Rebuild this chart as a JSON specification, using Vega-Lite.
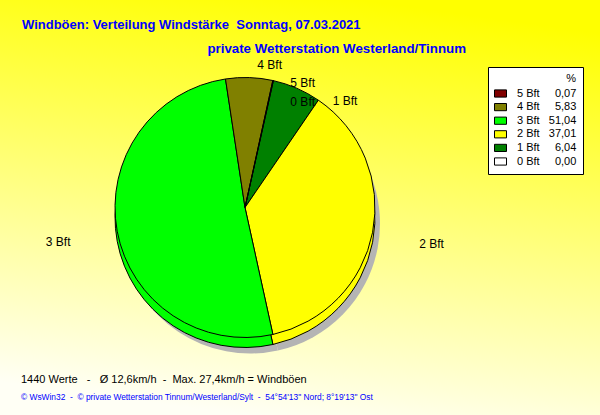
{
  "$schema": "https://vega.github.io/schema/vega-lite/v6.json",
  "padding": 0,
  "spacing": 0,
  "bounds": "flush",
  "background": "#ffffff",
  "config": {"view": {"stroke": null}},
  "datasets": {
    "wind": [
      {"Bft": "0 Bft", "Anteil": 0.00},
      {"Bft": "1 Bft", "Anteil": 6.04},
      {"Bft": "2 Bft", "Anteil": 37.01},
      {"Bft": "3 Bft", "Anteil": 51.04},
      {"Bft": "4 Bft", "Anteil": 5.83},
      {"Bft": "5 Bft", "Anteil": 0.07}
    ]
  },
  "title": {
    "text": "Windböen: Verteilung Windstärke\u00a0 Sonntag, 07.03.2021",
    "anchor": "start", "frame": "group", "orient": "top", "offset": -42, "baseline": "alphabetic", "dx": 22,
    "font": "Liberation Sans", "fontSize": 13, "fontWeight": "bold", "color": "#0000ff"
  },
  "hconcat": [
    {
      "width": 490,
      "height": 415,
      "view": {"stroke": null, "fill": {"gradient": "linear", "x1": 0.735, "y1": 0, "x2": 0.5696, "y2": 1.013, "stops": [{"offset": 0, "color": "#ffff00"}, {"offset": 1, "color": "#fffff5"}]}},
      "data": {"name": "wind"},
      "title": {
        "text": "1440 Werte\u00a0\u00a0 -\u00a0\u00a0 Ø 12,6km/h\u00a0 -\u00a0 Max. 27,4km/h = Windböen",
        "subtitle": "© WsWin32\u00a0 -\u00a0 © private Wetterstation Tinnum/Westerland/Sylt\u00a0 -\u00a0 54°54'13\" Nord; 8°19'13\" Ost",
        "orient": "bottom", "anchor": "start", "frame": "group", "offset": -32, "baseline": "alphabetic", "dx": 21,
        "font": "Liberation Sans", "fontSize": 11, "fontWeight": "normal", "color": "#000000",
        "subtitleFont": "Liberation Sans", "subtitleFontSize": 8.4, "subtitleColor": "#0000ff", "subtitlePadding": 6
      },
      "encoding": {
        "theta": {"field": "Anteil", "type": "quantitative", "stack": true, "scale": {"range": [0.2201, 6.5033], "nice": false}},
        "order": {"field": "Bft", "type": "ordinal", "sort": "ascending"}
      },
      "layer": [
        {
          "mark": {"type": "arc", "outerRadius": 130, "fill": "#b4b4b4", "stroke": null, "xOffset": 5, "yOffset": 16},
          "encoding": {}
        },
        {
          "mark": {"type": "arc", "outerRadius": 130, "stroke": "#000000", "strokeWidth": 1, "yOffset": 10},
          "encoding": {
            "color": {"field": "Bft", "type": "nominal", "scale": {"domain": ["5 Bft", "4 Bft", "3 Bft", "2 Bft", "1 Bft", "0 Bft"], "range": ["#800000", "#808000", "#00ff00", "#ffff00", "#008000", "#ffffff"]}}
          }
        },
        {
          "mark": {"type": "arc", "outerRadius": 130, "stroke": "#000000", "strokeWidth": 1},
          "encoding": {
            "color": {
              "field": "Bft", "type": "nominal",
              "scale": {"domain": ["5 Bft", "4 Bft", "3 Bft", "2 Bft", "1 Bft", "0 Bft"], "range": ["#800000", "#808000", "#00ff00", "#ffff00", "#008000", "#ffffff"]},
              "legend": {
                "orient": "none", "legendX": 488, "legendY": 67,
                "title": "%\u00a0\u00a0\u00a0\u00a0\u00a0\u00a0", "titleAnchor": "end", "titleAlign": "right",
                "titleFont": "Liberation Sans", "titleFontSize": 11, "titleFontWeight": "normal", "titleColor": "#000000", "titlePadding": 3,
                "labelFont": "Liberation Sans", "labelFontSize": 11, "labelColor": "#000000", "labelOffset": 10, "labelLimit": 200,
                "labelExpr": "datum.label + '\u00a0\u00a0\u00a0' + pad(replace(format(pluck(data('wind'), 'Anteil')[indexof(pluck(data('wind'), 'Bft'), datum.label)], '.2f'), '.', ','), 5, '\u2007', 'left')",
                "symbolType": "M-1,-0.6H1V0.6H-1Z", "symbolSize": 144, "symbolStrokeColor": "#000000", "symbolStrokeWidth": 1,
                "fillColor": "#ffffff", "strokeColor": "#000000", "padding": 6, "rowPadding": 0.6
              }
            }
          }
        },
        {
          "mark": {"type": "text", "radius": 190, "font": "Liberation Sans", "fontSize": 12, "color": "#000000"},
          "encoding": {"text": {"condition": {"test": "datum.Bft === '2 Bft' || datum.Bft === '3 Bft'", "field": "Bft"}, "value": ""}}
        },
        {
          "mark": {"type": "text", "radius": 143, "dx": 20, "font": "Liberation Sans", "fontSize": 12, "color": "#000000"},
          "encoding": {"text": {"condition": {"test": "datum.Bft === '4 Bft'", "field": "Bft"}, "value": ""}}
        },
        {
          "mark": {"type": "text", "radius": 128, "dx": 30, "font": "Liberation Sans", "fontSize": 12, "color": "#000000"},
          "encoding": {"text": {"condition": {"test": "datum.Bft === '5 Bft'", "field": "Bft"}, "value": ""}}
        },
        {
          "mark": {"type": "text", "radius": 108.6, "dx": 34, "font": "Liberation Sans", "fontSize": 12, "color": "#000000"},
          "encoding": {"text": {"condition": {"test": "datum.Bft === '0 Bft'", "field": "Bft"}, "value": ""}}
        },
        {
          "mark": {"type": "text", "radius": 115.6, "dx": 54, "font": "Liberation Sans", "fontSize": 12, "color": "#000000"},
          "encoding": {"text": {"condition": {"test": "datum.Bft === '1 Bft'", "field": "Bft"}, "value": ""}}
        }
      ]
    },
    {
      "width": 110,
      "height": 415,
      "view": {"stroke": null, "fill": {"gradient": "linear", "x1": 0, "y1": 0.0433, "x2": -0.0381, "y2": 1.0819, "stops": [{"offset": 0, "color": "#ffff00"}, {"offset": 1, "color": "#fffff5"}]}},
      "data": {"values": []},
      "mark": "rect",
      "title": {
        "text": "private Wetterstation Westerland/Tinnum",
        "orient": "top", "anchor": "start", "frame": "group", "align": "right", "dx": -24, "offset": -66, "baseline": "alphabetic",
        "font": "Liberation Sans", "fontSize": 13.3, "fontWeight": "bold", "color": "#0000ff"
      }
    }
  ]
}
